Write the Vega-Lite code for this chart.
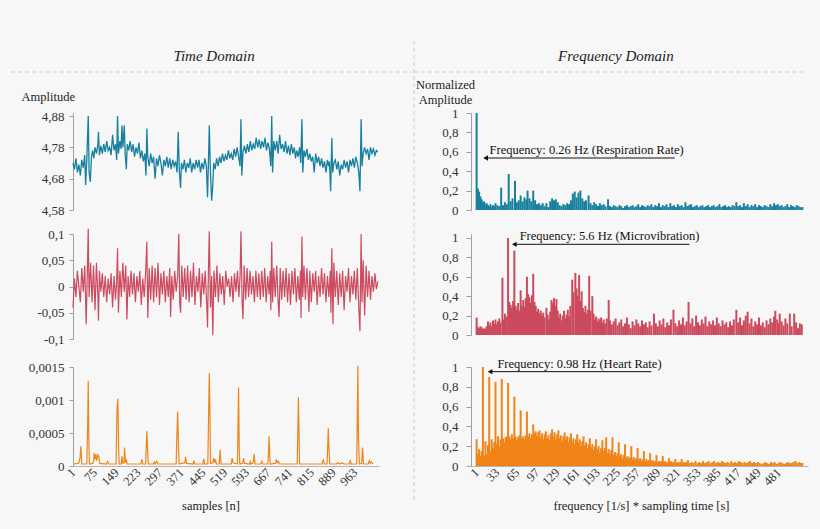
{
  "$schema": "https://vega.github.io/schema/vega-lite/v6.json",
  "background": "#f7f7f7",
  "padding": {"left": 10, "top": 40, "right": 13, "bottom": 22},
  "config": {
    "view": {"stroke": null},
    "font": "Liberation Serif",
    "axis": {
      "labelFont": "Liberation Serif",
      "titleFont": "Liberation Serif",
      "labelFontSize": 13,
      "titleFontSize": 12.5,
      "labelColor": "#333333",
      "titleColor": "#222222",
      "titleFontWeight": "normal",
      "domainColor": "#a0a0a0",
      "tickColor": "#a0a0a0",
      "tickSize": 4,
      "labelPadding": 5,
      "labelOverlap": false,
      "labelFlush": false,
      "labelBound": false,
      "grid": false
    }
  },
  "datasets": {
    "teal": [
      {"n":1,"v":4.73},{"n":6,"v":4.71},{"n":11,"v":4.745},{"n":16,"v":4.70},{"n":21,"v":4.725},{"n":26,"v":4.69},{"n":31,"v":4.74},{"n":36,"v":4.715},{"n":41,"v":4.755},{"n":44,"v":4.66},
      {"n":48,"v":4.74},{"n":53,"v":4.88},{"n":56,"v":4.70},{"n":60,"v":4.67},{"n":64,"v":4.75},{"n":68,"v":4.77},{"n":72,"v":4.745},{"n":76,"v":4.78},{"n":81,"v":4.76},{"n":86,"v":4.79},
      {"n":88,"v":4.83},{"n":91,"v":4.755},{"n":96,"v":4.785},{"n":101,"v":4.76},{"n":106,"v":4.79},{"n":111,"v":4.765},{"n":116,"v":4.80},{"n":121,"v":4.77},{"n":126,"v":4.78},{"n":131,"v":4.755},
      {"n":136,"v":4.82},{"n":141,"v":4.77},{"n":146,"v":4.79},{"n":150,"v":4.74},{"n":153,"v":4.88},{"n":156,"v":4.76},{"n":161,"v":4.80},{"n":165,"v":4.775},{"n":168,"v":4.85},{"n":171,"v":4.78},
      {"n":176,"v":4.85},{"n":179,"v":4.76},{"n":183,"v":4.71},{"n":186,"v":4.79},{"n":191,"v":4.77},{"n":196,"v":4.80},{"n":201,"v":4.765},{"n":206,"v":4.79},{"n":211,"v":4.75},{"n":216,"v":4.78},
      {"n":221,"v":4.76},{"n":226,"v":4.795},{"n":231,"v":4.745},{"n":236,"v":4.77},{"n":241,"v":4.735},{"n":246,"v":4.76},{"n":250,"v":4.69},{"n":253,"v":4.84},{"n":256,"v":4.75},{"n":261,"v":4.72},
      {"n":266,"v":4.76},{"n":271,"v":4.73},{"n":276,"v":4.75},{"n":281,"v":4.68},{"n":286,"v":4.745},{"n":291,"v":4.72},{"n":296,"v":4.755},{"n":301,"v":4.73},{"n":306,"v":4.69},{"n":311,"v":4.74},
      {"n":316,"v":4.72},{"n":321,"v":4.75},{"n":326,"v":4.715},{"n":331,"v":4.745},{"n":336,"v":4.71},{"n":341,"v":4.74},{"n":346,"v":4.72},{"n":351,"v":4.735},{"n":356,"v":4.70},{"n":360,"v":4.83},
      {"n":364,"v":4.70},{"n":368,"v":4.65},{"n":371,"v":4.73},{"n":376,"v":4.71},{"n":381,"v":4.74},{"n":386,"v":4.70},{"n":391,"v":4.73},{"n":396,"v":4.715},{"n":401,"v":4.745},{"n":406,"v":4.70},
      {"n":411,"v":4.73},{"n":416,"v":4.71},{"n":421,"v":4.74},{"n":426,"v":4.715},{"n":431,"v":4.74},{"n":436,"v":4.70},{"n":441,"v":4.73},{"n":446,"v":4.71},{"n":451,"v":4.745},{"n":456,"v":4.72},
      {"n":460,"v":4.62},{"n":463,"v":4.73},{"n":466,"v":4.85},{"n":470,"v":4.70},{"n":474,"v":4.61},{"n":478,"v":4.66},{"n":481,"v":4.73},{"n":486,"v":4.71},{"n":491,"v":4.745},{"n":496,"v":4.72},
      {"n":501,"v":4.75},{"n":506,"v":4.73},{"n":511,"v":4.76},{"n":516,"v":4.735},{"n":521,"v":4.755},{"n":526,"v":4.74},{"n":531,"v":4.77},{"n":536,"v":4.745},{"n":541,"v":4.76},{"n":546,"v":4.74},
      {"n":551,"v":4.775},{"n":556,"v":4.75},{"n":561,"v":4.78},{"n":566,"v":4.75},{"n":571,"v":4.72},{"n":574,"v":4.87},{"n":577,"v":4.69},{"n":581,"v":4.765},{"n":586,"v":4.785},{"n":591,"v":4.76},
      {"n":596,"v":4.79},{"n":601,"v":4.765},{"n":606,"v":4.80},{"n":611,"v":4.77},{"n":616,"v":4.79},{"n":621,"v":4.775},{"n":626,"v":4.81},{"n":631,"v":4.78},{"n":636,"v":4.805},{"n":641,"v":4.775},
      {"n":646,"v":4.80},{"n":651,"v":4.78},{"n":656,"v":4.81},{"n":661,"v":4.77},{"n":666,"v":4.795},{"n":671,"v":4.775},{"n":676,"v":4.72},{"n":679,"v":4.88},{"n":682,"v":4.70},{"n":686,"v":4.80},
      {"n":691,"v":4.77},{"n":696,"v":4.80},{"n":701,"v":4.76},{"n":706,"v":4.82},{"n":711,"v":4.775},{"n":716,"v":4.79},{"n":721,"v":4.765},{"n":726,"v":4.80},{"n":731,"v":4.76},{"n":736,"v":4.785},
      {"n":741,"v":4.755},{"n":746,"v":4.79},{"n":751,"v":4.76},{"n":756,"v":4.78},{"n":760,"v":4.745},{"n":764,"v":4.77},{"n":769,"v":4.75},{"n":774,"v":4.78},{"n":778,"v":4.73},{"n":782,"v":4.87},
      {"n":785,"v":4.70},{"n":789,"v":4.77},{"n":794,"v":4.75},{"n":799,"v":4.775},{"n":804,"v":4.74},{"n":809,"v":4.76},{"n":814,"v":4.735},{"n":819,"v":4.75},{"n":824,"v":4.70},{"n":829,"v":4.76},
      {"n":834,"v":4.73},{"n":839,"v":4.75},{"n":844,"v":4.72},{"n":849,"v":4.745},{"n":854,"v":4.715},{"n":859,"v":4.735},{"n":864,"v":4.70},{"n":869,"v":4.74},{"n":873,"v":4.72},{"n":876,"v":4.735},
      {"n":880,"v":4.64},{"n":884,"v":4.81},{"n":887,"v":4.70},{"n":891,"v":4.73},{"n":896,"v":4.74},{"n":901,"v":4.71},{"n":906,"v":4.735},{"n":911,"v":4.69},{"n":916,"v":4.725},{"n":921,"v":4.71},
      {"n":926,"v":4.74},{"n":931,"v":4.715},{"n":936,"v":4.735},{"n":941,"v":4.70},{"n":946,"v":4.74},{"n":951,"v":4.72},{"n":956,"v":4.745},{"n":961,"v":4.715},{"n":966,"v":4.75},{"n":971,"v":4.73},
      {"n":976,"v":4.70},{"n":980,"v":4.64},{"n":984,"v":4.87},{"n":987,"v":4.72},{"n":991,"v":4.76},{"n":996,"v":4.78},{"n":1001,"v":4.76},{"n":1006,"v":4.775},{"n":1011,"v":4.74},{"n":1016,"v":4.78},
      {"n":1021,"v":4.76},{"n":1026,"v":4.775},{"n":1031,"v":4.755},{"n":1036,"v":4.77},{"n":1041,"v":4.765}
    ],
    "red": [
      {"n":1,"v":-0.04},{"n":6,"v":0.015},{"n":11,"v":-0.02},{"n":16,"v":0.03},{"n":21,"v":0.0},{"n":26,"v":-0.03},{"n":31,"v":0.035},{"n":36,"v":-0.01},{"n":41,"v":0.04},{"n":46,"v":-0.072},
      {"n":50,"v":0.03},{"n":53,"v":0.11},{"n":56,"v":-0.02},{"n":61,"v":0.045},{"n":66,"v":-0.03},{"n":71,"v":0.04},{"n":76,"v":-0.045},{"n":81,"v":0.045},{"n":86,"v":-0.02},{"n":88,"v":-0.065},
      {"n":91,"v":0.03},{"n":96,"v":-0.01},{"n":101,"v":0.025},{"n":106,"v":-0.02},{"n":111,"v":0.02},{"n":116,"v":-0.03},{"n":121,"v":0.015},{"n":126,"v":-0.015},{"n":131,"v":0.025},{"n":136,"v":-0.04},
      {"n":141,"v":0.02},{"n":146,"v":-0.025},{"n":150,"v":0.01},{"n":153,"v":0.073},{"n":156,"v":-0.05},{"n":161,"v":0.03},{"n":166,"v":-0.02},{"n":171,"v":0.045},{"n":176,"v":-0.01},{"n":181,"v":0.04},
      {"n":185,"v":-0.063},{"n":189,"v":0.02},{"n":194,"v":-0.02},{"n":199,"v":0.03},{"n":204,"v":-0.015},{"n":209,"v":0.025},{"n":214,"v":-0.03},{"n":219,"v":0.02},{"n":224,"v":-0.01},{"n":229,"v":0.03},
      {"n":234,"v":-0.035},{"n":239,"v":0.015},{"n":244,"v":-0.02},{"n":249,"v":0.03},{"n":253,"v":0.085},{"n":256,"v":-0.06},{"n":261,"v":0.035},{"n":266,"v":-0.025},{"n":271,"v":0.04},{"n":276,"v":-0.03},
      {"n":281,"v":0.035},{"n":286,"v":-0.02},{"n":291,"v":0.045},{"n":296,"v":-0.035},{"n":301,"v":0.025},{"n":306,"v":-0.015},{"n":311,"v":0.03},{"n":316,"v":-0.03},{"n":321,"v":0.02},{"n":326,"v":-0.02},
      {"n":331,"v":0.035},{"n":334,"v":-0.058},{"n":338,"v":0.02},{"n":343,"v":-0.025},{"n":348,"v":0.03},{"n":353,"v":-0.01},{"n":358,"v":0.02},{"n":362,"v":0.10},{"n":365,"v":-0.03},{"n":368,"v":-0.05},
      {"n":372,"v":0.04},{"n":377,"v":-0.02},{"n":382,"v":0.035},{"n":387,"v":-0.025},{"n":392,"v":0.04},{"n":397,"v":-0.03},{"n":402,"v":0.03},{"n":407,"v":-0.02},{"n":412,"v":0.045},{"n":417,"v":-0.035},
      {"n":422,"v":0.02},{"n":427,"v":-0.01},{"n":432,"v":0.035},{"n":437,"v":-0.04},{"n":442,"v":0.025},{"n":447,"v":-0.015},{"n":452,"v":0.03},{"n":457,"v":-0.03},{"n":460,"v":-0.078},{"n":463,"v":0.03},
      {"n":466,"v":0.105},{"n":470,"v":-0.04},{"n":474,"v":0.02},{"n":478,"v":-0.093},{"n":482,"v":0.03},{"n":487,"v":-0.02},{"n":492,"v":0.04},{"n":497,"v":-0.03},{"n":502,"v":0.025},{"n":507,"v":-0.015},
      {"n":512,"v":0.02},{"n":517,"v":-0.035},{"n":522,"v":0.03},{"n":527,"v":0.0},{"n":532,"v":0.015},{"n":537,"v":-0.02},{"n":542,"v":0.02},{"n":547,"v":-0.03},{"n":552,"v":0.025},{"n":557,"v":-0.01},
      {"n":562,"v":0.03},{"n":567,"v":-0.02},{"n":571,"v":0.02},{"n":574,"v":0.105},{"n":578,"v":-0.03},{"n":581,"v":-0.062},{"n":585,"v":0.04},{"n":590,"v":-0.025},{"n":595,"v":0.035},{"n":600,"v":-0.02},
      {"n":605,"v":0.03},{"n":610,"v":-0.015},{"n":615,"v":0.02},{"n":620,"v":-0.03},{"n":625,"v":0.03},{"n":630,"v":-0.02},{"n":635,"v":0.025},{"n":640,"v":-0.025},{"n":645,"v":0.03},{"n":650,"v":-0.02},
      {"n":655,"v":0.035},{"n":660,"v":-0.03},{"n":665,"v":0.02},{"n":670,"v":-0.015},{"n":674,"v":0.03},{"n":676,"v":-0.045},{"n":679,"v":0.085},{"n":682,"v":-0.03},{"n":686,"v":0.035},{"n":691,"v":-0.02},
      {"n":696,"v":0.04},{"n":701,"v":-0.03},{"n":704,"v":-0.058},{"n":708,"v":0.035},{"n":713,"v":-0.025},{"n":718,"v":0.03},{"n":723,"v":-0.02},{"n":728,"v":0.035},{"n":733,"v":-0.03},{"n":738,"v":0.025},
      {"n":743,"v":-0.035},{"n":748,"v":0.03},{"n":753,"v":-0.015},{"n":758,"v":0.035},{"n":763,"v":-0.03},{"n":768,"v":0.02},{"n":773,"v":-0.025},{"n":777,"v":0.03},{"n":779,"v":-0.06},{"n":782,"v":0.095},
      {"n":785,"v":-0.02},{"n":789,"v":0.04},{"n":794,"v":-0.025},{"n":799,"v":0.035},{"n":804,"v":-0.02},{"n":806,"v":-0.048},{"n":809,"v":0.03},{"n":814,"v":-0.03},{"n":819,"v":0.025},{"n":824,"v":-0.01},
      {"n":829,"v":0.03},{"n":834,"v":-0.035},{"n":839,"v":0.02},{"n":844,"v":-0.02},{"n":849,"v":0.035},{"n":854,"v":-0.015},{"n":859,"v":0.025},{"n":864,"v":-0.03},{"n":869,"v":0.02},{"n":874,"v":-0.02},
      {"n":879,"v":0.03},{"n":881,"v":-0.05},{"n":884,"v":0.073},{"n":888,"v":-0.072},{"n":891,"v":0.045},{"n":896,"v":-0.02},{"n":901,"v":0.03},{"n":906,"v":-0.035},{"n":911,"v":0.025},{"n":916,"v":-0.02},
      {"n":921,"v":0.03},{"n":926,"v":-0.045},{"n":931,"v":0.02},{"n":936,"v":-0.01},{"n":941,"v":0.035},{"n":946,"v":-0.03},{"n":951,"v":0.02},{"n":956,"v":-0.015},{"n":961,"v":0.03},{"n":966,"v":-0.025},
      {"n":971,"v":0.035},{"n":976,"v":-0.04},{"n":980,"v":-0.085},{"n":984,"v":0.10},{"n":987,"v":-0.03},{"n":991,"v":0.05},{"n":996,"v":-0.055},{"n":1001,"v":0.04},{"n":1006,"v":-0.02},{"n":1011,"v":0.03},
      {"n":1016,"v":-0.025},{"n":1021,"v":0.02},{"n":1026,"v":-0.01},{"n":1031,"v":0.025},{"n":1036,"v":-0.005},{"n":1041,"v":0.01}
    ],
    "orangeTime": [
      {"n":1,"v":0.00003},{"n":20,"v":0.00004},{"n":25,"v":0.00012},{"n":28,"v":0.0003},{"n":31,"v":0.00003},{"n":48,"v":0.00003},{"n":51,"v":0.0006},{"n":53,"v":0.00129},{"n":55,"v":0.0004},{"n":57,"v":0.00003},
      {"n":68,"v":0.00004},{"n":72,"v":0.00008},{"n":73,"v":0.0002},{"n":76,"v":0.0001},{"n":79,"v":0.00018},{"n":82,"v":0.00008},{"n":86,"v":0.00017},{"n":89,"v":0.00015},{"n":92,"v":0.00004},{"n":115,"v":0.00003},
      {"n":119,"v":0.00007},{"n":123,"v":0.00003},{"n":148,"v":0.00003},{"n":150,"v":0.0006},{"n":152,"v":0.00095},{"n":153,"v":0.00085},{"n":154,"v":0.00102},{"n":157,"v":0.0002},{"n":159,"v":0.00003},{"n":166,"v":0.00003},
      {"n":168,"v":0.00015},{"n":171,"v":0.00004},{"n":175,"v":0.00005},{"n":177,"v":0.00028},{"n":180,"v":0.00005},{"n":183,"v":0.0001},{"n":186,"v":0.00003},{"n":232,"v":0.00003},{"n":236,"v":0.0001},{"n":239,"v":0.00003},
      {"n":249,"v":0.00003},{"n":251,"v":0.0003},{"n":253,"v":0.00053},{"n":256,"v":0.0002},{"n":258,"v":0.00003},{"n":276,"v":0.00003},{"n":278,"v":0.00006},{"n":281,"v":0.00003},{"n":287,"v":0.00007},{"n":290,"v":0.00003},
      {"n":353,"v":0.00003},{"n":355,"v":0.0004},{"n":358,"v":0.00082},{"n":361,"v":0.0003},{"n":363,"v":0.00003},{"n":383,"v":0.00005},{"n":385,"v":0.00014},{"n":388,"v":0.00004},{"n":411,"v":0.00003},{"n":413,"v":0.00008},
      {"n":416,"v":0.00003},{"n":444,"v":0.00003},{"n":447,"v":0.00011},{"n":450,"v":0.00003},{"n":461,"v":0.00003},{"n":463,"v":0.0006},{"n":466,"v":0.00141},{"n":468,"v":0.0009},{"n":470,"v":0.00004},{"n":478,"v":0.00005},
      {"n":481,"v":0.00012},{"n":484,"v":0.00005},{"n":487,"v":0.0001},{"n":490,"v":0.00003},{"n":500,"v":0.00003},{"n":503,"v":0.00024},{"n":506,"v":0.00003},{"n":541,"v":0.00003},{"n":544,"v":0.00012},{"n":547,"v":0.00005},
      {"n":562,"v":0.00003},{"n":564,"v":0.0006},{"n":566,"v":0.00119},{"n":568,"v":0.0003},{"n":570,"v":0.00003},{"n":580,"v":0.00004},{"n":583,"v":0.00012},{"n":586,"v":0.00004},{"n":604,"v":0.00003},{"n":606,"v":0.00007},
      {"n":609,"v":0.00003},{"n":616,"v":0.00005},{"n":619,"v":0.00018},{"n":622,"v":0.00003},{"n":641,"v":0.00003},{"n":645,"v":0.00007},{"n":648,"v":0.00003},{"n":666,"v":0.00003},{"n":668,"v":0.0002},{"n":670,"v":0.00045},
      {"n":672,"v":0.0002},{"n":674,"v":0.00003},{"n":692,"v":0.00004},{"n":695,"v":0.0001},{"n":698,"v":0.00005},{"n":702,"v":0.00007},{"n":705,"v":0.00003},{"n":766,"v":0.00003},{"n":768,"v":0.0005},{"n":770,"v":0.00104},
      {"n":772,"v":0.0005},{"n":774,"v":0.00003},{"n":851,"v":0.00003},{"n":855,"v":0.0001},{"n":858,"v":0.00003},{"n":868,"v":0.00003},{"n":870,"v":0.0003},{"n":872,"v":0.00057},{"n":874,"v":0.0003},{"n":877,"v":0.00003},
      {"n":900,"v":0.00003},{"n":905,"v":0.00005},{"n":910,"v":0.00003},{"n":920,"v":0.00005},{"n":925,"v":0.00003},{"n":944,"v":0.00003},{"n":947,"v":0.00008},{"n":950,"v":0.00003},{"n":969,"v":0.00003},{"n":971,"v":0.0008},
      {"n":973,"v":0.00152},{"n":975,"v":0.0004},{"n":978,"v":0.00003},{"n":986,"v":0.00004},{"n":989,"v":0.00028},{"n":992,"v":0.00003},{"n":1008,"v":0.00003},{"n":1012,"v":0.00008},{"n":1015,"v":0.00004},{"n":1018,"v":0.00006},
      {"n":1025,"v":0.00003}
    ],
    "specResp": [
      {"f":1,"a":1.0},{"f":3,"a":0.22},{"f":5,"a":0.19},{"f":7,"a":0.14},{"f":9,"a":0.11},{"f":11,"a":0.08},{"f":13,"a":0.09},{"f":15,"a":0.06},{"f":17,"a":0.07},{"f":19,"a":0.05},
      {"f":21,"a":0.04},{"f":23,"a":0.06},{"f":25,"a":0.03},{"f":27,"a":0.05},{"f":29,"a":0.04},{"f":31,"a":0.07},{"f":34,"a":0.05},{"f":37,"a":0.04},{"f":40,"a":0.23},{"f":43,"a":0.05},
      {"f":46,"a":0.08},{"f":49,"a":0.06},{"f":52,"a":0.37},{"f":55,"a":0.09},{"f":58,"a":0.12},{"f":62,"a":0.30},{"f":65,"a":0.08},{"f":68,"a":0.10},{"f":71,"a":0.15},{"f":74,"a":0.09},
      {"f":77,"a":0.13},{"f":80,"a":0.11},{"f":82,"a":0.20},{"f":85,"a":0.12},{"f":88,"a":0.09},{"f":91,"a":0.20},{"f":94,"a":0.10},{"f":97,"a":0.06},{"f":100,"a":0.07},{"f":103,"a":0.05},
      {"f":106,"a":0.07},{"f":109,"a":0.04},{"f":112,"a":0.07},{"f":115,"a":0.03},{"f":118,"a":0.09},{"f":121,"a":0.12},{"f":124,"a":0.10},{"f":127,"a":0.11},{"f":130,"a":0.08},{"f":133,"a":0.05},
      {"f":136,"a":0.04},{"f":139,"a":0.06},{"f":142,"a":0.05},{"f":145,"a":0.07},{"f":148,"a":0.06},{"f":151,"a":0.10},{"f":154,"a":0.17},{"f":157,"a":0.19},{"f":160,"a":0.13},{"f":163,"a":0.18},
      {"f":166,"a":0.20},{"f":169,"a":0.12},{"f":172,"a":0.09},{"f":175,"a":0.10},{"f":179,"a":0.15},{"f":182,"a":0.07},{"f":185,"a":0.05},{"f":188,"a":0.08},{"f":191,"a":0.06},{"f":194,"a":0.04},
      {"f":197,"a":0.07},{"f":200,"a":0.05},{"f":203,"a":0.06},{"f":206,"a":0.04},{"f":210,"a":0.11},{"f":213,"a":0.04},{"f":216,"a":0.03},{"f":219,"a":0.05},{"f":222,"a":0.04},{"f":225,"a":0.03},
      {"f":228,"a":0.05},{"f":231,"a":0.04},{"f":234,"a":0.02},{"f":237,"a":0.04},{"f":240,"a":0.05},{"f":243,"a":0.03},{"f":246,"a":0.04},{"f":249,"a":0.05},{"f":252,"a":0.03},{"f":255,"a":0.04},
      {"f":258,"a":0.06},{"f":261,"a":0.03},{"f":264,"a":0.05},{"f":267,"a":0.04},{"f":270,"a":0.03},{"f":273,"a":0.05},{"f":276,"a":0.04},{"f":279,"a":0.06},{"f":282,"a":0.03},{"f":285,"a":0.05},
      {"f":288,"a":0.04},{"f":291,"a":0.07},{"f":294,"a":0.03},{"f":297,"a":0.05},{"f":300,"a":0.04},{"f":303,"a":0.06},{"f":306,"a":0.03},{"f":309,"a":0.07},{"f":312,"a":0.04},{"f":315,"a":0.05},
      {"f":318,"a":0.03},{"f":321,"a":0.06},{"f":324,"a":0.04},{"f":327,"a":0.05},{"f":330,"a":0.03},{"f":333,"a":0.08},{"f":336,"a":0.04},{"f":339,"a":0.05},{"f":342,"a":0.06},{"f":345,"a":0.03},
      {"f":348,"a":0.04},{"f":351,"a":0.05},{"f":354,"a":0.03},{"f":357,"a":0.04},{"f":360,"a":0.05},{"f":363,"a":0.03},{"f":366,"a":0.04},{"f":369,"a":0.05},{"f":372,"a":0.03},{"f":375,"a":0.04},
      {"f":378,"a":0.05},{"f":381,"a":0.03},{"f":384,"a":0.04},{"f":387,"a":0.06},{"f":390,"a":0.03},{"f":393,"a":0.04},{"f":396,"a":0.05},{"f":399,"a":0.03},{"f":402,"a":0.04},{"f":405,"a":0.03},
      {"f":408,"a":0.05},{"f":411,"a":0.04},{"f":414,"a":0.08},{"f":417,"a":0.04},{"f":420,"a":0.05},{"f":423,"a":0.03},{"f":426,"a":0.07},{"f":429,"a":0.04},{"f":432,"a":0.06},{"f":435,"a":0.03},
      {"f":438,"a":0.05},{"f":441,"a":0.04},{"f":444,"a":0.06},{"f":447,"a":0.03},{"f":450,"a":0.05},{"f":453,"a":0.04},{"f":456,"a":0.03},{"f":459,"a":0.05},{"f":462,"a":0.04},{"f":465,"a":0.03},
      {"f":468,"a":0.06},{"f":471,"a":0.04},{"f":474,"a":0.07},{"f":477,"a":0.05},{"f":480,"a":0.06},{"f":483,"a":0.04},{"f":486,"a":0.05},{"f":489,"a":0.03},{"f":492,"a":0.04},{"f":495,"a":0.06},
      {"f":498,"a":0.03},{"f":501,"a":0.05},{"f":504,"a":0.04},{"f":507,"a":0.03},{"f":510,"a":0.05},{"f":513,"a":0.04},{"f":516,"a":0.03},{"f":519,"a":0.03}
    ],
    "specMicro": [
      {"f":1,"a":0.18},{"f":3,"a":0.08},{"f":5,"a":0.07},{"f":7,"a":0.09},{"f":9,"a":0.08},{"f":11,"a":0.06},{"f":13,"a":0.07},{"f":15,"a":0.06},{"f":17,"a":0.09},{"f":19,"a":0.14},
      {"f":21,"a":0.10},{"f":23,"a":0.13},{"f":25,"a":0.09},{"f":27,"a":0.15},{"f":29,"a":0.12},{"f":31,"a":0.16},{"f":33,"a":0.11},{"f":35,"a":0.14},{"f":37,"a":0.17},{"f":39,"a":0.13},
      {"f":42,"a":0.59},{"f":44,"a":0.16},{"f":46,"a":0.22},{"f":48,"a":0.19},{"f":51,"a":1.0},{"f":53,"a":0.34},{"f":55,"a":0.31},{"f":57,"a":0.28},{"f":59,"a":0.35},{"f":61,"a":0.87},
      {"f":63,"a":0.30},{"f":65,"a":0.26},{"f":67,"a":0.33},{"f":69,"a":0.25},{"f":71,"a":0.46},{"f":73,"a":0.30},{"f":75,"a":0.36},{"f":77,"a":0.29},{"f":79,"a":0.38},{"f":81,"a":0.60},
      {"f":83,"a":0.42},{"f":85,"a":0.39},{"f":87,"a":0.33},{"f":89,"a":0.41},{"f":91,"a":0.63},{"f":93,"a":0.34},{"f":95,"a":0.30},{"f":97,"a":0.24},{"f":99,"a":0.27},{"f":101,"a":0.22},
      {"f":103,"a":0.25},{"f":105,"a":0.20},{"f":107,"a":0.23},{"f":109,"a":0.18},{"f":112,"a":0.28},{"f":114,"a":0.21},{"f":116,"a":0.16},{"f":118,"a":0.24},{"f":120,"a":0.36},{"f":122,"a":0.33},
      {"f":124,"a":0.38},{"f":126,"a":0.30},{"f":128,"a":0.37},{"f":130,"a":0.25},{"f":132,"a":0.18},{"f":134,"a":0.22},{"f":136,"a":0.15},{"f":138,"a":0.20},{"f":140,"a":0.25},{"f":142,"a":0.17},
      {"f":144,"a":0.21},{"f":146,"a":0.26},{"f":148,"a":0.19},{"f":150,"a":0.30},{"f":153,"a":0.57},{"f":155,"a":0.44},{"f":158,"a":0.64},{"f":160,"a":0.48},{"f":162,"a":0.40},{"f":164,"a":0.62},
      {"f":166,"a":0.35},{"f":168,"a":0.45},{"f":170,"a":0.28},{"f":172,"a":0.24},{"f":174,"a":0.30},{"f":176,"a":0.22},{"f":178,"a":0.26},{"f":180,"a":0.61},{"f":182,"a":0.25},{"f":185,"a":0.40},
      {"f":187,"a":0.22},{"f":189,"a":0.16},{"f":191,"a":0.19},{"f":193,"a":0.14},{"f":195,"a":0.17},{"f":197,"a":0.15},{"f":199,"a":0.18},{"f":201,"a":0.13},{"f":203,"a":0.16},{"f":205,"a":0.12},
      {"f":208,"a":0.17},{"f":211,"a":0.36},{"f":213,"a":0.15},{"f":216,"a":0.11},{"f":219,"a":0.14},{"f":222,"a":0.17},{"f":225,"a":0.10},{"f":228,"a":0.13},{"f":231,"a":0.16},{"f":234,"a":0.09},
      {"f":237,"a":0.12},{"f":240,"a":0.18},{"f":243,"a":0.11},{"f":246,"a":0.07},{"f":249,"a":0.14},{"f":252,"a":0.10},{"f":255,"a":0.16},{"f":258,"a":0.12},{"f":261,"a":0.09},{"f":264,"a":0.15},
      {"f":267,"a":0.11},{"f":270,"a":0.13},{"f":273,"a":0.08},{"f":276,"a":0.14},{"f":279,"a":0.10},{"f":283,"a":0.22},{"f":286,"a":0.12},{"f":289,"a":0.09},{"f":292,"a":0.15},{"f":295,"a":0.11},
      {"f":298,"a":0.17},{"f":301,"a":0.08},{"f":304,"a":0.13},{"f":307,"a":0.10},{"f":310,"a":0.16},{"f":314,"a":0.26},{"f":317,"a":0.12},{"f":320,"a":0.09},{"f":323,"a":0.15},{"f":326,"a":0.11},
      {"f":329,"a":0.18},{"f":332,"a":0.10},{"f":335,"a":0.14},{"f":338,"a":0.34},{"f":341,"a":0.12},{"f":344,"a":0.17},{"f":347,"a":0.09},{"f":350,"a":0.20},{"f":353,"a":0.13},{"f":356,"a":0.10},
      {"f":359,"a":0.16},{"f":362,"a":0.12},{"f":365,"a":0.19},{"f":368,"a":0.09},{"f":371,"a":0.14},{"f":374,"a":0.11},{"f":377,"a":0.15},{"f":380,"a":0.10},{"f":383,"a":0.18},{"f":386,"a":0.12},
      {"f":389,"a":0.09},{"f":392,"a":0.15},{"f":395,"a":0.11},{"f":398,"a":0.13},{"f":401,"a":0.08},{"f":404,"a":0.14},{"f":407,"a":0.10},{"f":410,"a":0.16},{"f":414,"a":0.26},{"f":417,"a":0.13},
      {"f":420,"a":0.18},{"f":423,"a":0.10},{"f":426,"a":0.15},{"f":429,"a":0.20},{"f":432,"a":0.24},{"f":435,"a":0.12},{"f":438,"a":0.17},{"f":441,"a":0.09},{"f":444,"a":0.14},{"f":447,"a":0.11},
      {"f":450,"a":0.18},{"f":453,"a":0.10},{"f":456,"a":0.13},{"f":459,"a":0.08},{"f":462,"a":0.15},{"f":465,"a":0.11},{"f":468,"a":0.17},{"f":471,"a":0.13},{"f":474,"a":0.19},{"f":476,"a":0.25},
      {"f":479,"a":0.16},{"f":481,"a":0.12},{"f":483,"a":0.22},{"f":486,"a":0.14},{"f":489,"a":0.10},{"f":492,"a":0.17},{"f":495,"a":0.12},{"f":499,"a":0.22},{"f":502,"a":0.09},{"f":506,"a":0.22},
      {"f":509,"a":0.13},{"f":512,"a":0.07},{"f":515,"a":0.12},{"f":518,"a":0.11}
    ],
    "specHeart": [
      {"f":1,"a":0.27},{"f":3,"a":0.12},{"f":5,"a":0.17},{"f":7,"a":0.10},{"f":9,"a":0.15},{"f":11,"a":1.0},{"f":13,"a":0.10},{"f":15,"a":0.25},{"f":17,"a":0.12},{"f":19,"a":0.21},
      {"f":21,"a":0.90},{"f":23,"a":0.15},{"f":25,"a":0.27},{"f":27,"a":0.18},{"f":29,"a":0.24},{"f":31,"a":0.85},{"f":33,"a":0.22},{"f":35,"a":0.30},{"f":37,"a":0.20},{"f":39,"a":0.27},
      {"f":41,"a":0.88},{"f":43,"a":0.28},{"f":45,"a":0.24},{"f":47,"a":0.29},{"f":49,"a":0.30},{"f":51,"a":0.84},{"f":53,"a":0.30},{"f":55,"a":0.27},{"f":57,"a":0.32},{"f":59,"a":0.28},
      {"f":61,"a":0.70},{"f":63,"a":0.30},{"f":65,"a":0.26},{"f":67,"a":0.29},{"f":69,"a":0.31},{"f":71,"a":0.56},{"f":73,"a":0.28},{"f":75,"a":0.30},{"f":77,"a":0.27},{"f":79,"a":0.31},
      {"f":81,"a":0.55},{"f":83,"a":0.30},{"f":85,"a":0.33},{"f":87,"a":0.28},{"f":89,"a":0.32},{"f":91,"a":0.42},{"f":93,"a":0.33},{"f":95,"a":0.35},{"f":97,"a":0.30},{"f":99,"a":0.34},
      {"f":101,"a":0.36},{"f":103,"a":0.29},{"f":105,"a":0.33},{"f":107,"a":0.27},{"f":109,"a":0.32},{"f":111,"a":0.35},{"f":113,"a":0.28},{"f":115,"a":0.31},{"f":117,"a":0.26},{"f":119,"a":0.33},
      {"f":121,"a":0.37},{"f":123,"a":0.30},{"f":125,"a":0.34},{"f":127,"a":0.27},{"f":129,"a":0.32},{"f":131,"a":0.36},{"f":133,"a":0.28},{"f":135,"a":0.31},{"f":137,"a":0.25},{"f":139,"a":0.30},
      {"f":141,"a":0.34},{"f":143,"a":0.27},{"f":145,"a":0.30},{"f":147,"a":0.24},{"f":149,"a":0.29},{"f":151,"a":0.33},{"f":153,"a":0.25},{"f":155,"a":0.28},{"f":157,"a":0.22},{"f":159,"a":0.27},
      {"f":161,"a":0.32},{"f":163,"a":0.24},{"f":165,"a":0.27},{"f":167,"a":0.20},{"f":169,"a":0.25},{"f":171,"a":0.30},{"f":173,"a":0.21},{"f":175,"a":0.24},{"f":177,"a":0.18},{"f":179,"a":0.22},
      {"f":181,"a":0.28},{"f":183,"a":0.19},{"f":185,"a":0.22},{"f":187,"a":0.16},{"f":189,"a":0.20},{"f":191,"a":0.27},{"f":193,"a":0.17},{"f":195,"a":0.20},{"f":197,"a":0.14},{"f":199,"a":0.18},
      {"f":201,"a":0.26},{"f":203,"a":0.15},{"f":205,"a":0.18},{"f":207,"a":0.29},{"f":209,"a":0.13},{"f":211,"a":0.17},{"f":213,"a":0.12},{"f":215,"a":0.16},{"f":217,"a":0.29},{"f":219,"a":0.11},
      {"f":221,"a":0.14},{"f":223,"a":0.10},{"f":225,"a":0.13},{"f":227,"a":0.24},{"f":229,"a":0.10},{"f":231,"a":0.12},{"f":233,"a":0.08},{"f":235,"a":0.11},{"f":237,"a":0.22},{"f":239,"a":0.08},
      {"f":241,"a":0.10},{"f":243,"a":0.07},{"f":245,"a":0.09},{"f":247,"a":0.20},{"f":249,"a":0.07},{"f":251,"a":0.09},{"f":253,"a":0.06},{"f":255,"a":0.08},{"f":257,"a":0.18},{"f":259,"a":0.06},
      {"f":261,"a":0.08},{"f":263,"a":0.05},{"f":265,"a":0.07},{"f":267,"a":0.15},{"f":269,"a":0.05},{"f":271,"a":0.07},{"f":273,"a":0.05},{"f":275,"a":0.06},{"f":277,"a":0.13},{"f":279,"a":0.05},
      {"f":281,"a":0.06},{"f":283,"a":0.04},{"f":285,"a":0.05},{"f":287,"a":0.11},{"f":289,"a":0.04},{"f":291,"a":0.05},{"f":293,"a":0.04},{"f":295,"a":0.05},{"f":297,"a":0.10},{"f":299,"a":0.04},
      {"f":301,"a":0.05},{"f":303,"a":0.03},{"f":305,"a":0.04},{"f":307,"a":0.08},{"f":309,"a":0.04},{"f":311,"a":0.05},{"f":313,"a":0.03},{"f":315,"a":0.04},{"f":317,"a":0.07},{"f":319,"a":0.03},
      {"f":321,"a":0.04},{"f":323,"a":0.03},{"f":325,"a":0.04},{"f":327,"a":0.07},{"f":329,"a":0.03},{"f":331,"a":0.04},{"f":333,"a":0.03},{"f":335,"a":0.04},{"f":337,"a":0.06},{"f":340,"a":0.03},
      {"f":343,"a":0.04},{"f":346,"a":0.03},{"f":349,"a":0.05},{"f":352,"a":0.03},{"f":355,"a":0.04},{"f":358,"a":0.03},{"f":361,"a":0.05},{"f":364,"a":0.03},{"f":367,"a":0.04},{"f":370,"a":0.05},
      {"f":373,"a":0.03},{"f":376,"a":0.04},{"f":379,"a":0.05},{"f":382,"a":0.03},{"f":385,"a":0.04},{"f":388,"a":0.03},{"f":391,"a":0.05},{"f":394,"a":0.04},{"f":397,"a":0.03},{"f":400,"a":0.04},
      {"f":403,"a":0.03},{"f":406,"a":0.05},{"f":409,"a":0.03},{"f":412,"a":0.04},{"f":415,"a":0.03},{"f":418,"a":0.05},{"f":421,"a":0.04},{"f":424,"a":0.03},{"f":427,"a":0.04},{"f":430,"a":0.03},
      {"f":433,"a":0.04},{"f":436,"a":0.05},{"f":439,"a":0.03},{"f":442,"a":0.04},{"f":445,"a":0.03},{"f":448,"a":0.04},{"f":451,"a":0.03},{"f":454,"a":0.02},{"f":457,"a":0.03},{"f":460,"a":0.04},
      {"f":463,"a":0.03},{"f":466,"a":0.02},{"f":469,"a":0.04},{"f":472,"a":0.03},{"f":475,"a":0.04},{"f":478,"a":0.02},{"f":481,"a":0.03},{"f":484,"a":0.04},{"f":487,"a":0.03},{"f":490,"a":0.02},
      {"f":493,"a":0.03},{"f":496,"a":0.04},{"f":499,"a":0.03},{"f":502,"a":0.03},{"f":505,"a":0.04},{"f":508,"a":0.05},{"f":511,"a":0.03},{"f":514,"a":0.04},{"f":517,"a":0.03},{"f":519,"a":0.03}
    ]
  },
  "columns": 2,
  "align": "none",
  "bounds": "flush",
  "spacing": {"row": 0, "column": 92},
  "concat": [
    {
      "width": 306,
      "height": 72,
      "data": {"values": [{}]},
      "layer": [
        {
          "mark": {"type": "rule", "color": "#c9c9c9", "strokeDash": [4, 3], "strokeWidth": 1},
          "encoding": {
            "x": {"datum": -0.2026, "type": "quantitative", "scale": {"domain": [0, 1], "nice": false, "zero": false}, "axis": null},
            "x2": {"datum": 1.1046},
            "y": {"datum": 0.5694, "type": "quantitative", "scale": {"domain": [0, 1], "nice": false, "zero": false}, "axis": null}
          }
        },
        {
          "mark": {"type": "text", "font": "Liberation Serif", "fontStyle": "italic", "fontSize": 15, "color": "#222222", "align": "center", "baseline": "middle"},
          "encoding": {
            "x": {"datum": 0.461, "type": "quantitative", "axis": null},
            "y": {"datum": 0.7917, "type": "quantitative", "axis": null},
            "text": {"value": "Time Domain"}
          }
        }
      ]
    },
    {
      "width": 337,
      "height": 72,
      "data": {"values": [{}]},
      "layer": [
        {
          "mark": {"type": "rule", "color": "#c9c9c9", "strokeDash": [4, 3], "strokeWidth": 1},
          "encoding": {
            "x": {"datum": -0.169, "type": "quantitative", "scale": {"domain": [0, 1], "nice": false, "zero": false}, "axis": null},
            "x2": {"datum": 0.988},
            "y": {"datum": 0.5694, "type": "quantitative", "scale": {"domain": [0, 1], "nice": false, "zero": false}, "axis": null}
          }
        },
        {
          "mark": {"type": "rule", "color": "#c9c9c9", "strokeDash": [4, 3], "strokeWidth": 1},
          "encoding": {
            "x": {"datum": -0.169, "type": "quantitative", "axis": null},
            "y": {"datum": 1, "type": "quantitative", "axis": null},
            "y2": {"datum": -5.389}
          }
        },
        {
          "mark": {"type": "text", "font": "Liberation Serif", "fontStyle": "italic", "fontSize": 15, "color": "#222222", "align": "center", "baseline": "middle"},
          "encoding": {
            "x": {"datum": 0.43, "type": "quantitative", "axis": null},
            "y": {"datum": 0.7917, "type": "quantitative", "axis": null},
            "text": {"value": "Frequency Domain"}
          }
        }
      ]
    },
    {
      "width": 306,
      "height": 97,
      "data": {"name": "teal"},
      "mark": {"type": "line", "color": "#17809f", "strokeWidth": 1.3},
      "encoding": {
        "x": {"field": "n", "type": "quantitative", "scale": {"domain": [1, 1045], "nice": false, "zero": false}, "axis": null},
        "y": {
          "field": "v", "type": "quantitative",
          "scale": {"domain": [4.58, 4.8896], "nice": false, "zero": false},
          "axis": {
            "values": [4.58, 4.68, 4.78, 4.88],
            "labelExpr": "replace(replace(format(datum.value, '~g'), '.', ','), '\u2212', '-')",
            "title": "Amplitude", "titleAngle": 0, "titleAlign": "left", "titleBaseline": "middle",
            "titleX": -52, "titleY": -17
          }
        }
      }
    },
    {
      "width": 337,
      "height": 97,
      "layer": [
        {
          "data": {"name": "specResp"},
          "mark": {"type": "bar", "color": "#17809f", "size": 2},
          "encoding": {
            "x": {"field": "f", "type": "quantitative", "scale": {"domain": [0, 520], "nice": false, "zero": false}, "axis": null},
            "y": {
              "field": "a", "type": "quantitative",
              "scale": {"domain": [0, 1], "nice": false},
              "axis": {"values": [0, 0.2, 0.4, 0.6, 0.8, 1], "labelExpr": "replace(format(datum.value, '~g'), '.', ',')", "labelOverlap": false, "tickSize": 5, "labelPadding": 8, "title": ["Normalized", "Amplitude"], "titleAngle": 0, "titleAlign": "center", "titleBaseline": "middle", "titleLineHeight": 15, "titleX": -26, "titleY": -29}
            }
          }
        },
        {
          "data": {"values": [{}]},
          "mark": {"type": "rule", "color": "#111111", "strokeWidth": 1},
          "encoding": {
            "x": {"datum": 13, "type": "quantitative", "axis": null},
            "x2": {"datum": 316},
            "y": {"datum": 0.536, "type": "quantitative",
              "axis": {"values": [0, 0.2, 0.4, 0.6, 0.8, 1], "labelExpr": "replace(format(datum.value, '~g'), '.', ',')", "labelOverlap": false, "tickSize": 5, "labelPadding": 8, "title": ["Normalized", "Amplitude"], "titleAngle": 0, "titleAlign": "center", "titleBaseline": "middle", "titleLineHeight": 15, "titleX": -26, "titleY": -29}}
          }
        },
        {
          "data": {"values": [{}]},
          "mark": {"type": "point", "shape": "triangle-left", "filled": true, "size": 28, "color": "#111111", "opacity": 1},
          "encoding": {
            "x": {"datum": 15.4, "type": "quantitative", "axis": null},
            "y": {"datum": 0.536, "type": "quantitative",
              "axis": {"values": [0, 0.2, 0.4, 0.6, 0.8, 1], "labelExpr": "replace(format(datum.value, '~g'), '.', ',')", "labelOverlap": false, "tickSize": 5, "labelPadding": 8, "title": ["Normalized", "Amplitude"], "titleAngle": 0, "titleAlign": "center", "titleBaseline": "middle", "titleLineHeight": 15, "titleX": -26, "titleY": -29}}
          }
        },
        {
          "data": {"values": [{}]},
          "mark": {"type": "text", "font": "Liberation Serif", "fontSize": 12.5, "color": "#111111", "align": "left", "baseline": "middle"},
          "encoding": {
            "x": {"datum": 21.6, "type": "quantitative", "axis": null},
            "y": {"datum": 0.619, "type": "quantitative",
              "axis": {"values": [0, 0.2, 0.4, 0.6, 0.8, 1], "labelExpr": "replace(format(datum.value, '~g'), '.', ',')", "labelOverlap": false, "tickSize": 5, "labelPadding": 8, "title": ["Normalized", "Amplitude"], "titleAngle": 0, "titleAlign": "center", "titleBaseline": "middle", "titleLineHeight": 15, "titleX": -26, "titleY": -29}},
            "text": {"value": "Frequency: 0.26 Hz (Respiration Rate)"}
          }
        }
      ]
    },
    {
      "width": 306,
      "height": 24,
      "data": {"values": [{}]},
      "mark": {"type": "text"},
      "encoding": {"text": {"value": ""}}
    },
    {
      "width": 337,
      "height": 24,
      "data": {"values": [{}]},
      "mark": {"type": "text"},
      "encoding": {"text": {"value": ""}}
    },
    {
      "width": 306,
      "height": 105,
      "layer": [
        {
          "data": {"values": [{}]},
          "mark": {"type": "rule", "color": "#c4c4c4", "strokeWidth": 1},
          "encoding": {
            "y": {"datum": 0, "type": "quantitative",
              "axis": {"values": [-0.1, -0.05, 0, 0.05, 0.1], "labelExpr": "replace(replace(format(datum.value, '~g'), '.', ','), '\u2212', '-')", "labelOverlap": false, "title": null}}
          }
        },
        {
          "data": {"name": "red"},
          "mark": {"type": "line", "color": "#cd4a5f", "strokeWidth": 1.2},
          "encoding": {
            "x": {"field": "n", "type": "quantitative", "scale": {"domain": [1, 1045], "nice": false, "zero": false}, "axis": null},
            "y": {
              "field": "v", "type": "quantitative",
              "scale": {"domain": [-0.1, 0.1], "nice": false, "zero": false},
              "axis": {"values": [-0.1, -0.05, 0, 0.05, 0.1], "labelExpr": "replace(replace(format(datum.value, '~g'), '.', ','), '\u2212', '-')", "labelOverlap": false, "title": null}
            }
          }
        }
      ]
    },
    {
      "width": 337,
      "height": 101,
      "layer": [
        {
          "data": {"name": "specMicro"},
          "mark": {"type": "bar", "color": "#cb4a5d", "size": 2},
          "encoding": {
            "x": {"field": "f", "type": "quantitative", "scale": {"domain": [0, 520], "nice": false, "zero": false}, "axis": null},
            "y": {
              "field": "a", "type": "quantitative",
              "scale": {"domain": [0, 1.0412], "nice": false},
              "axis": {"values": [0, 0.2, 0.4, 0.6, 0.8, 1], "labelExpr": "replace(format(datum.value, '~g'), '.', ',')", "labelOverlap": false, "tickSize": 5, "labelPadding": 8, "title": null}
            }
          }
        },
        {
          "data": {"values": [{}]},
          "mark": {"type": "rule", "color": "#111111", "strokeWidth": 1},
          "encoding": {
            "x": {"datum": 59, "type": "quantitative", "axis": null},
            "x2": {"datum": 339.5},
            "y": {"datum": 0.935, "type": "quantitative",
              "axis": {"values": [0, 0.2, 0.4, 0.6, 0.8, 1], "labelExpr": "replace(format(datum.value, '~g'), '.', ',')", "labelOverlap": false, "tickSize": 5, "labelPadding": 8, "title": null}}
          }
        },
        {
          "data": {"values": [{}]},
          "mark": {"type": "point", "shape": "triangle-left", "filled": true, "size": 28, "color": "#111111", "opacity": 1},
          "encoding": {
            "x": {"datum": 61, "type": "quantitative", "axis": null},
            "y": {"datum": 0.935, "type": "quantitative",
              "axis": {"values": [0, 0.2, 0.4, 0.6, 0.8, 1], "labelExpr": "replace(format(datum.value, '~g'), '.', ',')", "labelOverlap": false, "tickSize": 5, "labelPadding": 8, "title": null}}
          }
        },
        {
          "data": {"values": [{}]},
          "mark": {"type": "text", "font": "Liberation Serif", "fontSize": 12.5, "color": "#111111", "align": "left", "baseline": "middle"},
          "encoding": {
            "x": {"datum": 69.4, "type": "quantitative", "axis": null},
            "y": {"datum": 1.021, "type": "quantitative",
              "axis": {"values": [0, 0.2, 0.4, 0.6, 0.8, 1], "labelExpr": "replace(format(datum.value, '~g'), '.', ',')", "labelOverlap": false, "tickSize": 5, "labelPadding": 8, "title": null}},
            "text": {"value": "Frequency: 5.6 Hz (Microvibration)"}
          }
        }
      ]
    },
    {
      "width": 306,
      "height": 28,
      "data": {"values": [{}]},
      "mark": {"type": "text"},
      "encoding": {"text": {"value": ""}}
    },
    {
      "width": 337,
      "height": 28,
      "data": {"values": [{}]},
      "mark": {"type": "text"},
      "encoding": {"text": {"value": ""}}
    },
    {
      "width": 306,
      "height": 99,
      "data": {"name": "orangeTime"},
      "mark": {"type": "line", "color": "#ef8519", "strokeWidth": 1.2},
      "encoding": {
        "x": {
          "field": "n", "type": "quantitative",
          "scale": {"domain": [1, 1045], "nice": false, "zero": false},
          "axis": {
            "values": [1, 75, 149, 223, 297, 371, 445, 519, 593, 667, 741, 815, 889, 963],
            "format": "d", "labelAngle": -45, "labelAlign": "right", "labelBaseline": "middle",
            "labelFontSize": 12.5, "labelPadding": 4, "ticks": false,
            "domainColor": "#b5b5b5",
            "title": "samples [n]", "titleX": 137.5, "titleY": 39, "titleAlign": "center", "titleBaseline": "middle"
          }
        },
        "y": {
          "field": "v", "type": "quantitative",
          "scale": {"domain": [0, 0.0015], "nice": false},
          "axis": {
            "values": [0, 0.0005, 0.001, 0.0015],
            "labelExpr": "replace(format(datum.value, '~g'), '.', ',')",
            "title": null
          }
        }
      }
    },
    {
      "width": 337,
      "height": 99,
      "layer": [
        {
          "data": {"name": "specHeart"},
          "mark": {"type": "bar", "color": "#f08418", "size": 2},
          "encoding": {
            "x": {
              "field": "f", "type": "quantitative",
              "scale": {"domain": [0, 520], "nice": false, "zero": false},
              "axis": {"values": [1, 33, 65, 97, 129, 161, 193, 225, 257, 289, 321, 353, 385, 417, 449, 481], "format": "d", "labelAngle": -45, "labelAlign": "right", "labelBaseline": "middle", "labelFontSize": 12.5, "labelPadding": 4, "ticks": false, "labelOverlap": false, "domainColor": "#b5b5b5", "title": "frequency [1/s] * sampling time [s]", "titleX": 170, "titleY": 39, "titleAlign": "center", "titleBaseline": "middle"}
            },
            "y": {
              "field": "a", "type": "quantitative",
              "scale": {"domain": [0, 1], "nice": false},
              "axis": {"values": [0, 0.2, 0.4, 0.6, 0.8, 1], "labelExpr": "replace(format(datum.value, '~g'), '.', ',')", "labelOverlap": false, "tickSize": 5, "labelPadding": 8, "title": null}
            }
          }
        },
        {
          "data": {"values": [{}]},
          "mark": {"type": "rule", "color": "#111111", "strokeWidth": 1},
          "encoding": {
            "x": {"datum": 20.5, "type": "quantitative",
              "axis": {"values": [1, 33, 65, 97, 129, 161, 193, 225, 257, 289, 321, 353, 385, 417, 449, 481], "format": "d", "labelAngle": -45, "labelAlign": "right", "labelBaseline": "middle", "labelFontSize": 12.5, "labelPadding": 4, "ticks": false, "labelOverlap": false, "domainColor": "#b5b5b5", "title": "frequency [1/s] * sampling time [s]", "titleX": 170, "titleY": 39, "titleAlign": "center", "titleBaseline": "middle"}},
            "x2": {"datum": 279},
            "y": {"datum": 0.953, "type": "quantitative",
              "axis": {"values": [0, 0.2, 0.4, 0.6, 0.8, 1], "labelExpr": "replace(format(datum.value, '~g'), '.', ',')", "labelOverlap": false, "tickSize": 5, "labelPadding": 8, "title": null}}
          }
        },
        {
          "data": {"values": [{}]},
          "mark": {"type": "point", "shape": "triangle-left", "filled": true, "size": 28, "color": "#111111", "opacity": 1},
          "encoding": {
            "x": {"datum": 22.4, "type": "quantitative",
              "axis": {"values": [1, 33, 65, 97, 129, 161, 193, 225, 257, 289, 321, 353, 385, 417, 449, 481], "format": "d", "labelAngle": -45, "labelAlign": "right", "labelBaseline": "middle", "labelFontSize": 12.5, "labelPadding": 4, "ticks": false, "labelOverlap": false, "domainColor": "#b5b5b5", "title": "frequency [1/s] * sampling time [s]", "titleX": 170, "titleY": 39, "titleAlign": "center", "titleBaseline": "middle"}},
            "y": {"datum": 0.953, "type": "quantitative",
              "axis": {"values": [0, 0.2, 0.4, 0.6, 0.8, 1], "labelExpr": "replace(format(datum.value, '~g'), '.', ',')", "labelOverlap": false, "tickSize": 5, "labelPadding": 8, "title": null}}
          }
        },
        {
          "data": {"values": [{}]},
          "mark": {"type": "text", "font": "Liberation Serif", "fontSize": 12.5, "color": "#111111", "align": "left", "baseline": "middle"},
          "encoding": {
            "x": {"datum": 34, "type": "quantitative",
              "axis": {"values": [1, 33, 65, 97, 129, 161, 193, 225, 257, 289, 321, 353, 385, 417, 449, 481], "format": "d", "labelAngle": -45, "labelAlign": "right", "labelBaseline": "middle", "labelFontSize": 12.5, "labelPadding": 4, "ticks": false, "labelOverlap": false, "domainColor": "#b5b5b5", "title": "frequency [1/s] * sampling time [s]", "titleX": 170, "titleY": 39, "titleAlign": "center", "titleBaseline": "middle"}},
            "y": {"datum": 1.027, "type": "quantitative",
              "axis": {"values": [0, 0.2, 0.4, 0.6, 0.8, 1], "labelExpr": "replace(format(datum.value, '~g'), '.', ',')", "labelOverlap": false, "tickSize": 5, "labelPadding": 8, "title": null}},
            "text": {"value": "Frequency: 0.98 Hz (Heart Rate)"}
          }
        }
      ]
    }
  ]
}
